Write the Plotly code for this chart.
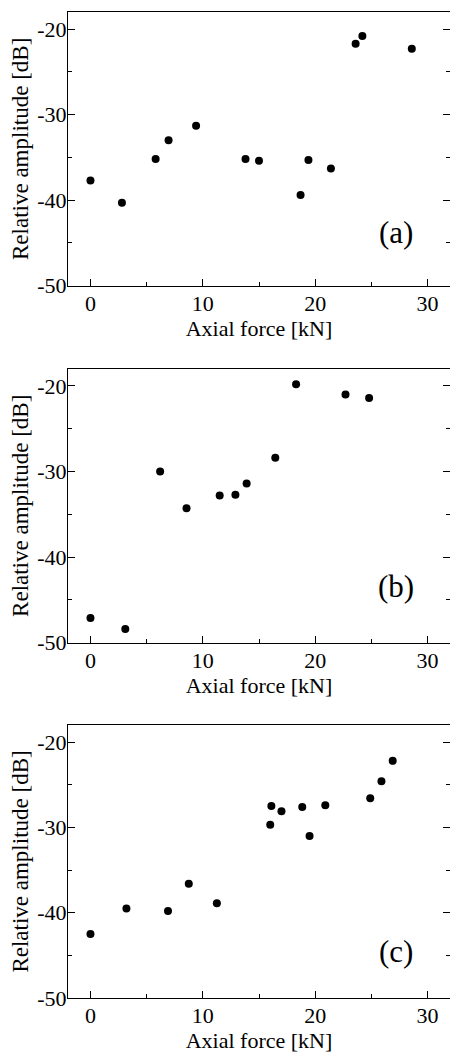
import plotly.graph_objects as go

# axial force [kN] and relative amplitude [dB]
force_a = [0.0, 2.8, 5.8, 6.95, 9.4, 13.8, 15.0, 18.7, 19.4, 21.4, 23.6, 24.2, 28.6]
amp_a = [-37.7, -40.3, -35.2, -33.0, -31.3, -35.2, -35.4, -39.4, -35.3, -36.3, -21.7, -20.8, -22.3]

force_b = [0.0, 3.1, 6.2, 8.55, 11.5, 12.9, 13.9, 16.45, 18.3, 22.7, 24.8]
amp_b = [-47.1, -48.4, -30.0, -34.3, -32.8, -32.7, -31.4, -28.4, -19.8, -21.0, -21.4]

force_c = [0.0, 3.2, 6.9, 8.75, 11.25, 16.0, 16.1, 17.0, 18.85, 19.5, 20.9, 24.9, 25.9, 26.9]
amp_c = [-42.5, -39.5, -39.8, -36.6, -38.9, -29.7, -27.5, -28.1, -27.6, -31.0, -27.4, -26.6, -24.6, -22.2]

panel_labels = ["(a)", "(b)", "(c)"]
x_ticks = [0, 10, 20, 30]
x_ticktext = ["0", "10", "20", "30"]
y_ticks = [-50, -40, -30, -20]
y_ticktext = ["-50", "-40", "-30", "-20"]

FONT = "Liberation Serif"
panels = [(force_a, amp_a), (force_b, amp_b), (force_c, amp_c)]
domains = [[0.7224, 1.0], [0.3603, 0.6381], [0.0, 0.2769]]
label_y = [-43.8, -43.4, -44.6]

fig = go.Figure()
layout = dict(
    width=450, height=1053,
    margin=dict(l=68, r=0, t=12, b=55),
    paper_bgcolor="white", plot_bgcolor="white",
    showlegend=False,
    font=dict(family=FONT, size=22, color="black"),
    annotations=[],
)

for i, (xs, ys) in enumerate(panels):
    n = "" if i == 0 else str(i + 1)
    fig.add_trace(go.Scatter(
        x=xs, y=ys, mode="markers",
        marker=dict(color="black", size=8),
        xaxis="x" + n, yaxis="y" + n,
    ))
    layout["xaxis" + n] = dict(
        domain=[0, 1], anchor="y" + n, range=[-2, 32],
        tickvals=x_ticks, ticktext=x_ticktext,
        ticks="inside", ticklen=7, tickwidth=1, tickcolor="black",
        minor=dict(dtick=5, tick0=0, ticks="inside", ticklen=4, tickcolor="black"),
        showline=True, linecolor="black", linewidth=1, mirror=True,
        showgrid=False, zeroline=False,
        tickfont=dict(family=FONT, size=22),
        ticklabelstandoff=-2,
        title=dict(text="Axial force [kN]", font=dict(family=FONT, size=22), standoff=2),
    )
    layout["yaxis" + n] = dict(
        domain=domains[i], anchor="x" + n, range=[-50, -18],
        tickvals=y_ticks, ticktext=y_ticktext,
        ticks="inside", ticklen=7, tickwidth=1, tickcolor="black",
        minor=dict(dtick=5, tick0=0, ticks="inside", ticklen=4, tickcolor="black"),
        showline=True, linecolor="black", linewidth=1, mirror="ticks",
        showgrid=False, zeroline=False,
        tickfont=dict(family=FONT, size=22),
        ticklabelstandoff=-4,
        title=dict(text="Relative amplitude [dB]", font=dict(family=FONT, size=23), standoff=2),
    )
    layout["annotations"].append(dict(
        text=panel_labels[i], x=27.2, y=label_y[i],
        xref="x" + n, yref="y" + n, showarrow=False,
        font=dict(family=FONT, size=31, color="black"),
    ))

fig.update_layout(**layout)
# drop the page margin so the 450x1053 figure fills the window exactly
fig.write_html(
    "out.html",
    config={"displayModeBar": False},
    post_script="document.body.style.margin='0';document.body.style.overflow='hidden';",
)
